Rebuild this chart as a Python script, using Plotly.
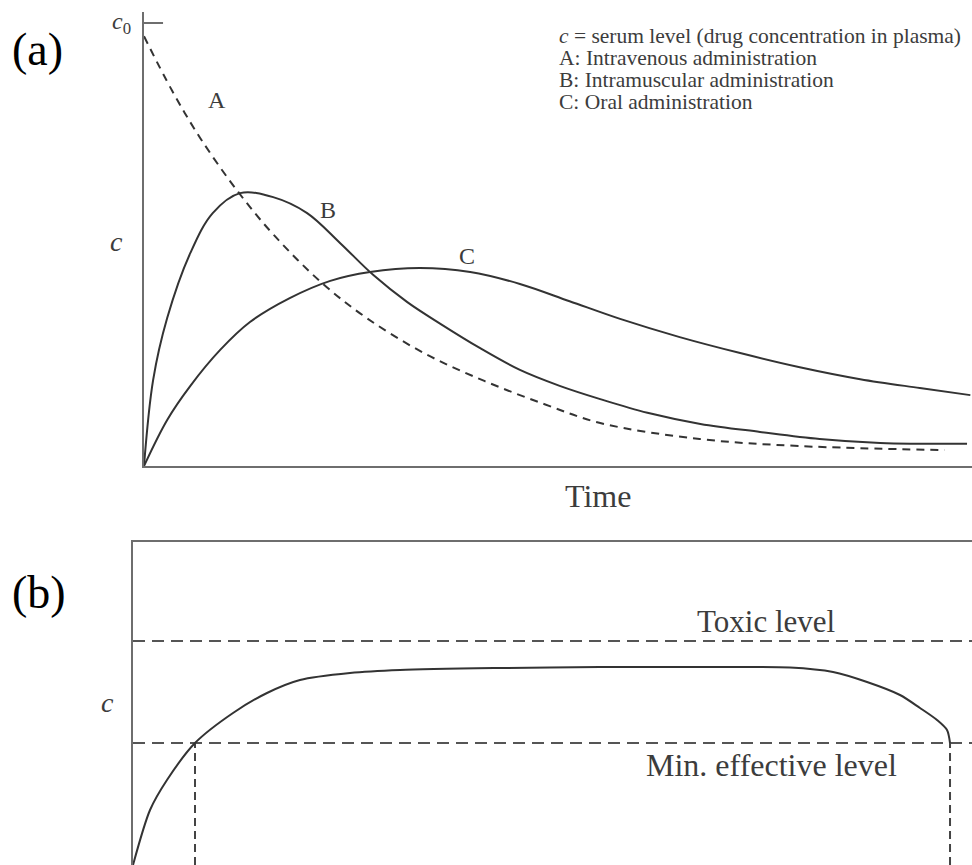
import plotly.graph_objects as go

W, H = 972, 865

# ---- (a) serum level after a single dose, three routes of administration ----
# time in arbitrary units, concentration relative to the initial level c0
time_a = [0.0, 0.34, 0.68, 1.14, 1.57, 2.15, 2.69, 3.38, 4.11, 4.83, 5.51, 6.71, 7.92, 9.67]
conc_a = [0.97, 0.847, 0.74, 0.618, 0.521, 0.413, 0.334, 0.255, 0.192, 0.14, 0.097, 0.061, 0.045, 0.036]

time_b = [0.0, 0.11, 0.28, 0.56, 0.83, 1.16, 1.56, 1.97, 2.37, 2.77, 3.18, 3.58, 4.06,
          4.54, 5.02, 5.51, 6.08, 6.72, 7.44, 8.16, 8.89, 9.94]
conc_b = [0.0, 0.194, 0.334, 0.481, 0.571, 0.616, 0.607, 0.571, 0.503, 0.431, 0.370, 0.321,
          0.266, 0.217, 0.181, 0.151, 0.120, 0.095, 0.077, 0.061, 0.052, 0.050]

time_c = [0.0, 0.28, 0.56, 0.92, 1.28, 1.76, 2.25, 2.73, 3.33, 3.94, 4.54, 5.14, 5.75, 6.47,
          7.20, 7.92, 8.65, 9.37, 9.98]
conc_c = [0.0, 0.104, 0.181, 0.262, 0.325, 0.379, 0.418, 0.438, 0.447, 0.438, 0.411, 0.372,
          0.332, 0.291, 0.255, 0.223, 0.196, 0.176, 0.160]

c0_level = 1.0
route_labels = ["A", "B", "C"]
route_label_pos = [(0.88, 0.826), (2.22, 0.578), (3.9, 0.474)]
key_lines = [
    "<i>c</i> = serum level (drug concentration in plasma)",
    "A: Intravenous administration",
    "B: Intramuscular administration",
    "C: Oral administration",
]

# ---- (b) repeated dosing held between the two therapeutic limits ----
time_d = [0.0, 0.203, 0.405, 0.739, 1.192, 1.597, 1.99, 2.586, 3.182, 4.374, 5.566, 6.758,
          7.83, 8.344, 8.749, 9.142, 9.38, 9.583, 9.702, 9.738]
conc_d = [0.0, 0.55, 0.85, 1.22, 1.52, 1.72, 1.85, 1.92, 1.95, 1.97, 1.98, 1.98, 1.975,
          1.93, 1.83, 1.70, 1.57, 1.45, 1.35, 1.22]
toxic_level = 2.24
min_effective_level = 1.22

INK = "#333333"
AXIS = "#6e6e6e"
TEXT = "#3c3c3c"
SERIF = "Liberation Serif, Times New Roman, serif"


def px(x):
    return x / W


def py(y):
    return 1 - y / H


fig = go.Figure()

# panel (a)
fig.add_trace(go.Scatter(x=time_a, y=conc_a, mode="lines", line_shape="spline",
                         line=dict(color=INK, width=2, dash="8px,6px"),
                         xaxis="x", yaxis="y", hoverinfo="skip"))
fig.add_trace(go.Scatter(x=time_b, y=conc_b, mode="lines", line_shape="spline",
                         line=dict(color=INK, width=2, smoothing=1.0),
                         xaxis="x", yaxis="y", hoverinfo="skip"))
fig.add_trace(go.Scatter(x=time_c, y=conc_c, mode="lines", line_shape="spline",
                         line=dict(color=INK, width=2, smoothing=1.0),
                         xaxis="x", yaxis="y", hoverinfo="skip"))

# panel (b)
hdash = dict(color="#555555", width=2, dash="12px,7px")
vdash = dict(color="#444444", width=2, dash="8px,5px")
fig.add_trace(go.Scatter(x=[0, 10], y=[toxic_level, toxic_level], mode="lines", line=hdash,
                         xaxis="x2", yaxis="y2", hoverinfo="skip"))
fig.add_trace(go.Scatter(x=[0, 10], y=[min_effective_level, min_effective_level], mode="lines",
                         line=hdash, xaxis="x2", yaxis="y2", hoverinfo="skip"))
onset, offset = time_d[3], time_d[-1]
for t in (onset, offset):
    fig.add_trace(go.Scatter(x=[t, t], y=[0, min_effective_level], mode="lines", line=vdash,
                             xaxis="x2", yaxis="y2", hoverinfo="skip"))
fig.add_trace(go.Scatter(x=time_d, y=conc_d, mode="lines", line_shape="spline",
                         line=dict(color=INK, width=2, smoothing=0.8),
                         xaxis="x2", yaxis="y2", hoverinfo="skip"))

# c0 tick on the concentration axis
fig.add_shape(type="line", xref="x", yref="y", x0=0, x1=0.23, y0=c0_level, y1=c0_level,
              line=dict(color=AXIS, width=2))

ann = []
for lab, (lx, ly) in zip(route_labels, route_label_pos):
    ann.append(dict(x=lx, y=ly, xref="x", yref="y", text=lab, showarrow=False,
                    xanchor="center", yanchor="middle",
                    font=dict(family=SERIF, size=24, color=TEXT)))
for i, line in enumerate(key_lines):
    ann.append(dict(x=px(557), y=py(36 + 22 * i), xref="paper", yref="paper", text=line,
                    showarrow=False, xanchor="left", yanchor="middle",
                    font=dict(family=SERIF, size=21.5, color=TEXT)))

free_text = [
    ("(a)", 37, 50, 46, "#000000"),
    ("(b)", 39, 592, 46, "#000000"),
    ("<i>c</i><sub>0</sub>", 121, 23, 24, TEXT),
    ("<i>c</i>", 116, 242, 28, TEXT),
    ("<i>c</i>", 107, 702, 28, TEXT),
    ("Time", 598, 496, 32, TEXT),
    ("Toxic level", 766, 621, 31, TEXT),
    ("Min. effective level", 771, 765, 32, TEXT),
]
for txt, x, y, size, col in free_text:
    ann.append(dict(x=px(x), y=py(y), xref="paper", yref="paper", text=txt, showarrow=False,
                    xanchor="center", yanchor="middle",
                    font=dict(family=SERIF, size=size, color=col)))

noaxis = dict(showgrid=False, zeroline=False, showticklabels=False, ticks="")
fig.update_layout(
    width=W, height=H, margin=dict(l=0, r=0, t=0, b=0),
    paper_bgcolor="white", plot_bgcolor="white", showlegend=False,
    xaxis=dict(domain=[px(144), 1], range=[0, 10], anchor="y", showline=True,
               linecolor=AXIS, linewidth=2, **noaxis),
    yaxis=dict(domain=[py(466), py(12)], range=[0, 454 / 443], anchor="x", showline=True,
               linecolor=AXIS, linewidth=2, **noaxis),
    xaxis2=dict(domain=[px(133), 1], range=[0, 10], anchor="y2", side="top", showline=True,
                linecolor=AXIS, linewidth=2, **noaxis),
    yaxis2=dict(domain=[0, py(542)], range=[0, 3.23], anchor="x2", showline=True,
                linecolor=AXIS, linewidth=2, **noaxis),
    annotations=ann,
)

fig.write_html("out.html")
